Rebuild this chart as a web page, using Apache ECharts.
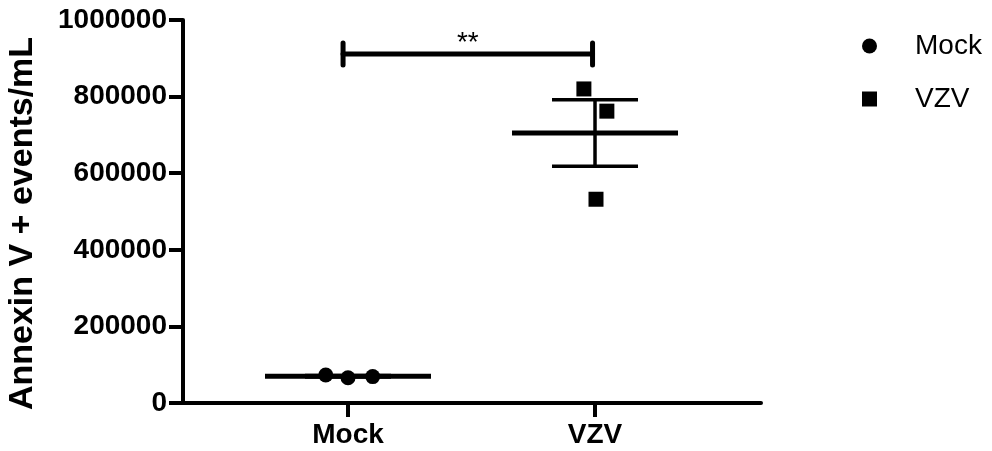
<!DOCTYPE html>
<html>
<head>
<meta charset="UTF-8">
<title>Annexin V</title>
<style>
  html, body { margin: 0; padding: 0; background: #fff; }
  #chart { width: 992px; height: 451px; }
</style>
</head>
<body>
<div id="chart"></div>
<script src="https://cdn.jsdelivr.net/npm/echarts@6/dist/echarts.min.js"></script>
<script>
  // group positions on the x axis and their labels
  var groupX = [1, 2];
  var groupNames = ['Mock', 'VZV'];

  // individual points (x carries the small horizontal scatter)
  var mockX = [0.91, 1.0, 1.1];
  var mockY = [73000, 66000, 69000];
  var vzvX = [1.955, 2.048, 2.004];
  var vzvY = [820000, 762000, 532000];

  // mean and SEM for each group
  var groupMean = [70000, 705000];
  var groupSem = [2000, 87000];

  // significance bracket
  var sigFrom = 0.98;
  var sigTo = 1.99;
  var sigY = 911000;
  var sigText = '**';

  // y ticks
  var yMin = 0, yMax = 1000000, yStep = 200000;

  var FONT = 'Liberation Sans, Arial, sans-serif';

  function pairs(xs, ys) {
    var res = [];
    for (var i = 0; i < xs.length; i++) res.push([xs[i], ys[i]]);
    return res;
  }

  var statData = [];
  for (var i = 0; i < groupX.length; i++) {
    statData.push([groupX[i], groupMean[i], groupSem[i]]);
  }

  var chart = echarts.init(document.getElementById('chart'));
  chart.setOption({
    animation: false,
    backgroundColor: '#fff',
    grid: { left: 183, top: 20, right: 231, bottom: 48, outerBoundsMode: 'none', containLabel: false },
    legend: {
      orient: 'vertical',
      left: 857,
      top: 27,
      itemWidth: 15,
      itemHeight: 15,
      itemGap: 25,
      itemStyle: { opacity: 1 },
      textStyle: { fontFamily: FONT, fontSize: 28, color: '#000', padding: [0, 0, 0, 33] },
      data: [
        { name: 'Mock', icon: 'circle' },
        { name: 'VZV', icon: 'rect' }
      ]
    },
    xAxis: {
      type: 'value',
      min: 0.332,
      max: 2.672,
      splitLine: { show: false },
      axisLine: { show: true, onZero: false, lineStyle: { color: '#000', width: 4 } },
      axisTick: { show: true, customValues: groupX, length: 14, lineStyle: { color: '#000', width: 4 } },
      axisLabel: {
        customValues: groupX,
        margin: 18,
        fontFamily: FONT,
        fontSize: 28,
        fontWeight: 'bold',
        color: '#000',
        formatter: function (v) {
          var k = groupX.indexOf(v);
          return k >= 0 ? groupNames[k] : '';
        }
      }
    },
    yAxis: {
      type: 'value',
      min: yMin,
      max: yMax,
      interval: yStep,
      name: 'Annexin V + events/mL',
      nameLocation: 'middle',
      nameGap: 143,
      nameTextStyle: { fontFamily: FONT, fontSize: 34, fontWeight: 'bold', color: '#000', padding: [0, 24, 0, 0] },
      splitLine: { show: false },
      axisLine: { show: true, lineStyle: { color: '#000', width: 4 } },
      axisTick: { show: true, length: 14, lineStyle: { color: '#000', width: 4 } },
      axisLabel: {
        margin: 16, fontFamily: FONT, fontSize: 28, fontWeight: 'bold', color: '#000',
        formatter: function (v) { return String(v); }
      }
    },
    series: [
      {
        name: 'meanSem',
        type: 'custom',
        silent: true,
        z: 2,
        renderItem: function (params, api) {
          var x = api.value(0), m = api.value(1), s = api.value(2);
          var c = api.coord([x, m]);
          var hi = api.coord([x, m + s]);
          var lo = api.coord([x, m - s]);
          var st = { stroke: '#000', lineWidth: 3.5 };
          return {
            type: 'group',
            children: [
              { type: 'line', shape: { x1: c[0], y1: hi[1], x2: c[0], y2: lo[1] }, style: st },
              { type: 'line', shape: { x1: c[0] - 43, y1: hi[1], x2: c[0] + 43, y2: hi[1] }, style: st },
              { type: 'line', shape: { x1: c[0] - 43, y1: lo[1], x2: c[0] + 43, y2: lo[1] }, style: st },
              { type: 'line', shape: { x1: c[0] - 83, y1: c[1], x2: c[0] + 83, y2: c[1] }, style: { stroke: '#000', lineWidth: 5 } }
            ]
          };
        },
        data: statData
      },
      {
        name: 'sig',
        type: 'custom',
        silent: true,
        z: 2,
        renderItem: function (params, api) {
          var a = api.coord([api.value(0), api.value(2)]);
          var b = api.coord([api.value(1), api.value(2)]);
          var st = { stroke: '#000', lineWidth: 5, lineCap: 'round' };
          return {
            type: 'group',
            children: [
              { type: 'line', shape: { x1: a[0], y1: a[1], x2: b[0], y2: b[1] }, style: st },
              { type: 'line', shape: { x1: a[0], y1: a[1] - 11, x2: a[0], y2: a[1] + 11 }, style: st },
              { type: 'line', shape: { x1: b[0], y1: b[1] - 11, x2: b[0], y2: b[1] + 11 }, style: st },
              {
                type: 'text',
                style: {
                  x: (a[0] + b[0]) / 2, y: a[1] + 3,
                  text: sigText, fill: '#000',
                  font: '28px ' + FONT,
                  align: 'center', verticalAlign: 'bottom'
                }
              }
            ]
          };
        },
        data: [[sigFrom, sigTo, sigY]]
      },
      {
        name: 'Mock',
        type: 'scatter',
        symbol: 'circle',
        symbolSize: 15,
        itemStyle: { color: '#000', opacity: 1 },
        z: 3,
        data: pairs(mockX, mockY)
      },
      {
        name: 'VZV',
        type: 'scatter',
        symbol: 'rect',
        symbolSize: 15,
        itemStyle: { color: '#000', opacity: 1 },
        z: 3,
        data: pairs(vzvX, vzvY)
      }
    ]
  });
</script>
</body>
</html>
